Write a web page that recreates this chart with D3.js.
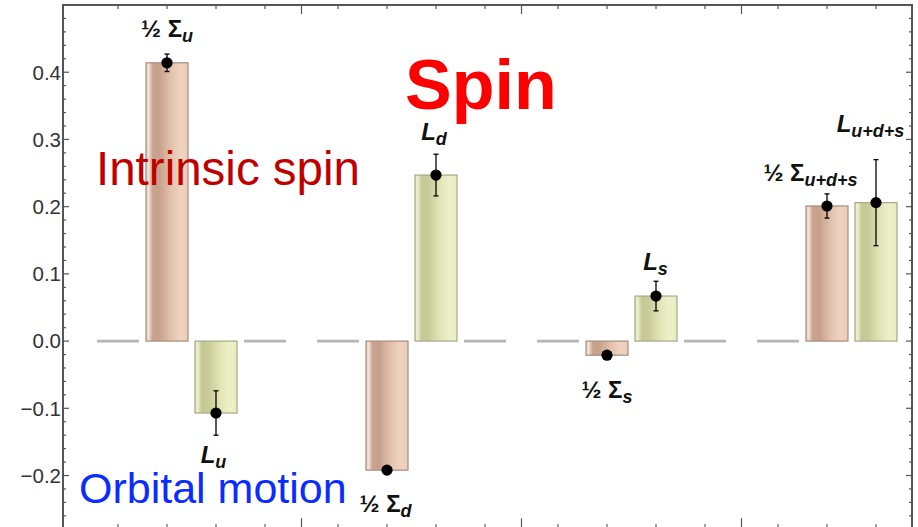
<!DOCTYPE html>
<html>
<head>
<meta charset="utf-8">
<script src="https://cdn.jsdelivr.net/npm/d3@7/dist/d3.min.js"></script>
<style>
  html, body { margin: 0; padding: 0; background: #fff; }
  svg { display: block; font-family: "Liberation Sans", Arial, sans-serif; }
</style>
</head>
<body>
<svg id="chart" width="918" height="527"></svg>
<script>
// Quark spin decomposition: half intrinsic spin (½Σ) and orbital angular momentum (L) per flavour
const groups = ["u", "d", "s", "u+d+s"];
const halfSigma = [0.414, -0.192, -0.021, 0.201];
const halfSigmaErr = [0.013, 0.004, 0.003, 0.018];
const orbitalL = [-0.107, 0.247, 0.067, 0.206];
const orbitalLErr = [0.033, 0.031, 0.022, 0.064];
const yTickValues = [-0.2, -0.1, 0.0, 0.1, 0.2, 0.3, 0.4];

// label placement relative to the end of each error bar (pixels)
const sigmaLabelNudge = [[0, -17], [-1.5, 39.5], [0, 40.5], [-16.5, -12.5]];
const orbitalLabelNudge = [[-2.5, 28], [-2, -14], [-0.5, -11], [-5.5, -28]];

const frame = { left: 63, right: 912, top: 5, bottom: 529.3 };

const svg = d3.select("#chart");

const y = d3.scaleLinear().domain([-0.28, 0.5]).range([frame.bottom, frame.top]);

// each flavour group holds four slots: empty, ½Σ, L, empty
const x0 = d3.scaleBand().domain(groups).range([81.5, 961.5])
  .paddingInner(31 / 220).paddingOuter(31 / 440);
const slots = [0, 1, 2, 3];
const x1 = d3.scaleBand().domain(slots).range([0, x0.bandwidth()]).paddingInner(7 / 49).paddingOuter(0);

// gradients for the shaded bars
const defs = svg.append("defs");
function cylinder(id, stops) {
  const g = defs.append("linearGradient").attr("id", id)
    .attr("x1", "0%").attr("x2", "100%").attr("y1", "0%").attr("y2", "0%");
  stops.forEach(([o, c]) => g.append("stop").attr("offset", o).attr("stop-color", c));
}
cylinder("gradSigma", [["0%", "#e6cfc1"], ["6%", "#f3e2d8"], ["16%", "#c9a38e"], ["32%", "#c8a18b"],
  ["60%", "#e3c2ad"], ["82%", "#efd3c0"], ["100%", "#ebcdb8"]]);
cylinder("gradL", [["0%", "#dfe2bc"], ["6%", "#eef0d2"], ["16%", "#c6c895"], ["32%", "#c8ca98"],
  ["60%", "#e2e5b6"], ["82%", "#eef0c9"], ["100%", "#e9ecc0"]]);

// baseline dashes in the empty slots
const dashData = [];
groups.forEach(g => [0, 3].forEach(s => {
  const a = x0(g) + x1(s), b = a + x1.bandwidth();
  if (b <= frame.right) dashData.push([a, b]);
}));
svg.append("g").selectAll("line").data(dashData).join("line")
  .attr("x1", d => d[0]).attr("x2", d => d[1])
  .attr("y1", y(0)).attr("y2", y(0))
  .attr("stroke", "#b5b5b5").attr("stroke-width", 2.6);

// bars
const series = [
  { values: halfSigma, errs: halfSigmaErr, slot: 1, fill: "url(#gradSigma)", stroke: "#a48c7e", nudge: sigmaLabelNudge },
  { values: orbitalL, errs: orbitalLErr, slot: 2, fill: "url(#gradL)", stroke: "#a6a886", nudge: orbitalLabelNudge }
];

series.forEach(s => {
  svg.append("g").selectAll("rect").data(s.values).join("rect")
    .attr("x", (v, i) => x0(groups[i]) + x1(s.slot))
    .attr("width", x1.bandwidth())
    .attr("y", v => y(Math.max(0, v)))
    .attr("height", v => Math.abs(y(v) - y(0)))
    .attr("fill", s.fill)
    .attr("stroke", s.stroke).attr("stroke-width", 1.2);
});

// error bars and central points
series.forEach(s => {
  const g = svg.append("g");
  s.values.forEach((v, i) => {
    const cx = x0(groups[i]) + x1(s.slot) + x1.bandwidth() / 2;
    const e = s.errs[i];
    g.append("line").attr("x1", cx).attr("x2", cx).attr("y1", y(v + e)).attr("y2", y(v - e))
      .attr("stroke", "#000").attr("stroke-width", 1.3);
    [v + e, v - e].forEach(t => g.append("line")
      .attr("x1", cx - 2.5).attr("x2", cx + 2.5).attr("y1", y(t)).attr("y2", y(t))
      .attr("stroke", "#000").attr("stroke-width", 1.3));
    g.append("circle").attr("cx", cx).attr("cy", y(v)).attr("r", 5.6).attr("fill", "#000");
  });
});

// bar labels: ½ Σ_q and L_q
function addLabel(cx, cy, head, headItalic, sub) {
  const t = svg.append("text").attr("x", cx).attr("y", cy)
    .attr("text-anchor", "middle").attr("font-weight", "bold").attr("fill", "#111");
  t.append("tspan").attr("font-size", 24).attr("font-style", headItalic ? "italic" : "normal").text(head);
  t.append("tspan").attr("font-size", 18).attr("font-style", "italic").attr("dy", 5).text(sub);
}
series.forEach((s, k) => {
  s.values.forEach((v, i) => {
    const cx = x0(groups[i]) + x1(s.slot) + x1.bandwidth() / 2;
    const e = s.errs[i];
    const end = v >= 0 ? y(v + e) : y(v - e);
    const [dx, dy] = s.nudge[i];
    if (k === 0) addLabel(cx + dx, end + dy, "½ Σ", false, groups[i]);
    else addLabel(cx + dx, end + dy, "L", true, groups[i]);
  });
});

// frame
const axisColor = "#555";
svg.append("rect").attr("x", frame.left).attr("y", frame.top)
  .attr("width", frame.right - frame.left).attr("height", frame.bottom - frame.top)
  .attr("fill", "none").attr("stroke", axisColor).attr("stroke-width", 2);

// vertical ticks every 0.02, major every 0.1
const minorY = d3.range(-14, 25).map(k => k * 0.02).filter(v => v > -0.28 && v < 0.5);
const tg = svg.append("g").attr("stroke", axisColor);
minorY.forEach(v => {
  const major = Math.abs(Math.round(v * 10) - v * 10) < 1e-6;
  const len = major ? 6 : 3;
  tg.append("line").attr("x1", frame.left).attr("x2", frame.left + len).attr("y1", y(v)).attr("y2", y(v)).attr("stroke-width", 1.2);
  tg.append("line").attr("x1", frame.right).attr("x2", frame.right - len).attr("y1", y(v)).attr("y2", y(v)).attr("stroke-width", 1.2);
});

// horizontal ticks: slot centres (minor) and group boundaries (major)
const slotCentres = [];
groups.forEach(g => slots.forEach(s => {
  const c = x0(g) + x1(s) + x1.bandwidth() / 2;
  if (c < frame.right) slotCentres.push(c);
}));
slotCentres.forEach(c => {
  tg.append("line").attr("x1", c).attr("x2", c).attr("y1", frame.top).attr("y2", frame.top + 4).attr("stroke-width", 1.2);
  tg.append("line").attr("x1", c).attr("x2", c).attr("y1", frame.bottom).attr("y2", frame.bottom - 5).attr("stroke-width", 1.2);
});
groups.slice(1).forEach(g => {
  const b = x0(g) - x0.step() * x0.paddingInner() / 2;
  tg.append("line").attr("x1", b).attr("x2", b).attr("y1", frame.top).attr("y2", frame.top + 9).attr("stroke-width", 1.2);
  tg.append("line").attr("x1", b).attr("x2", b).attr("y1", frame.bottom).attr("y2", frame.bottom - 11).attr("stroke-width", 1.2);
});

// y tick labels
svg.append("g").selectAll("text").data(yTickValues).join("text")
  .attr("x", 61).attr("y", v => y(v)).attr("dy", "0.36em")
  .attr("text-anchor", "end").attr("font-size", 20.5).attr("fill", "#333")
  .text(d3.format(".1f"));

// annotations
svg.append("text").attr("x", 405).attr("y", 109).attr("font-size", 70).attr("font-weight", "bold")
  .attr("fill", "#ff0000").text("Spin");
svg.append("text").attr("x", 96).attr("y", 185).attr("font-size", 47.5)
  .attr("fill", "#c00000").text("Intrinsic spin");
svg.append("text").attr("x", 79).attr("y", 503).attr("font-size", 43)
  .attr("fill", "#0a2cff").text("Orbital motion");
</script>
</body>
</html>
